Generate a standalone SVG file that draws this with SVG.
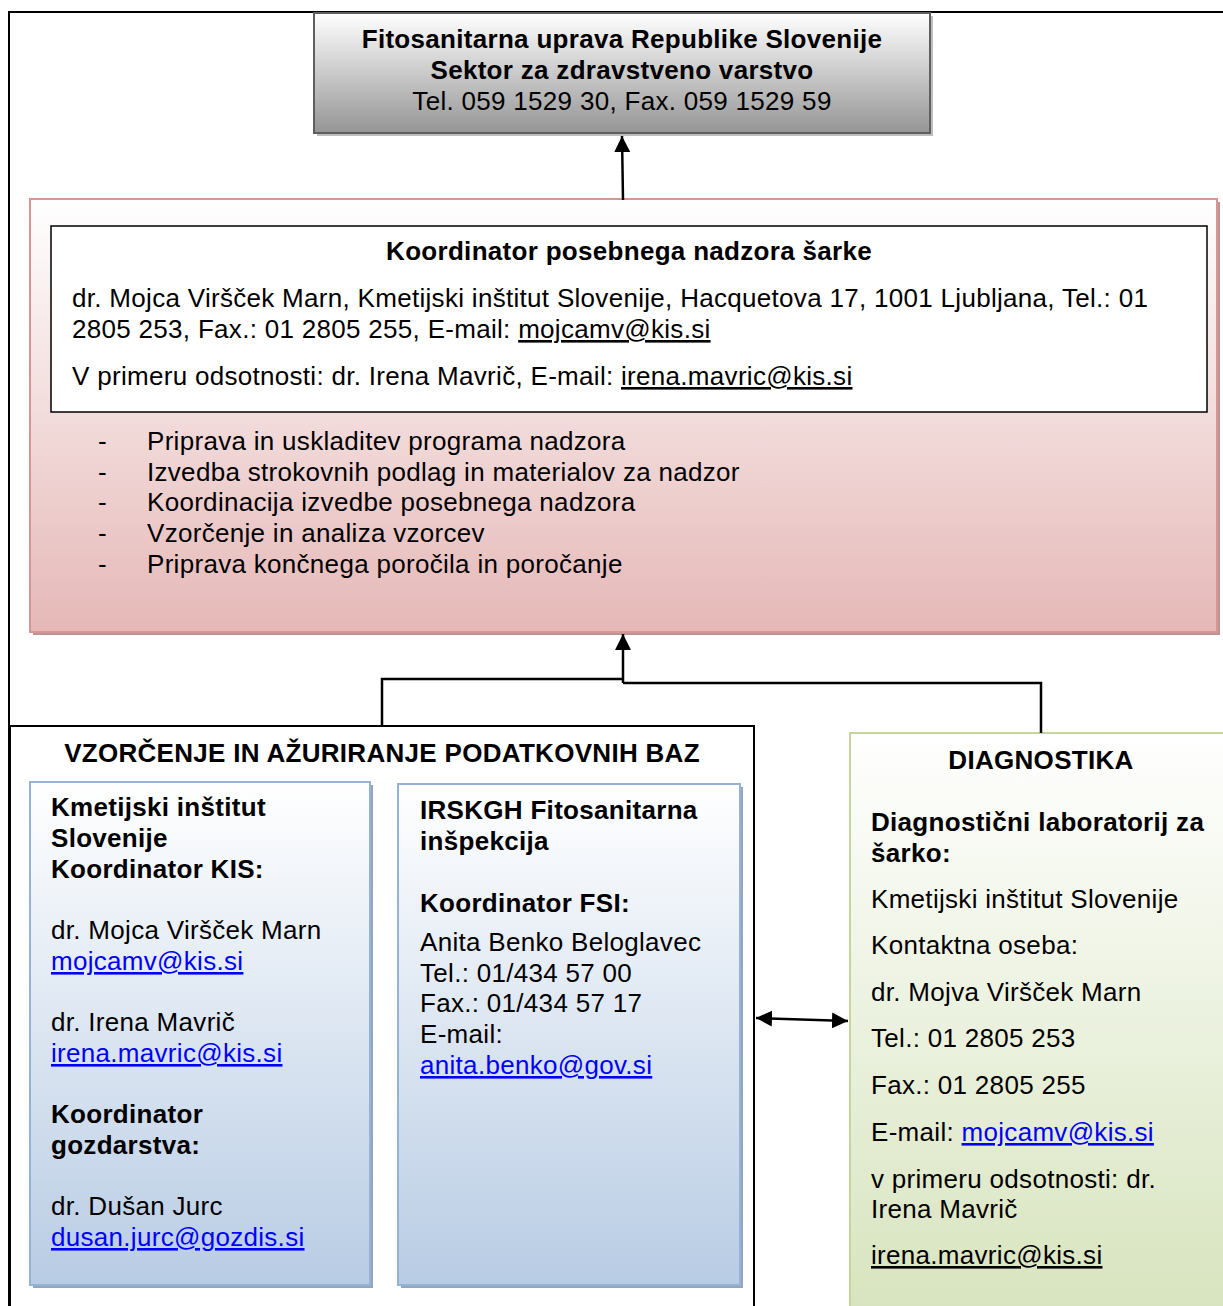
<svg xmlns="http://www.w3.org/2000/svg" width="1223" height="1306" viewBox="0 0 1223 1306">
<defs>
<linearGradient id="gGray" x1="0" y1="0" x2="0" y2="1"><stop offset="0" stop-color="#ffffff"/><stop offset="1" stop-color="#959595"/></linearGradient>
<linearGradient id="gPink" x1="0" y1="0" x2="0" y2="1"><stop offset="0" stop-color="#ffffff"/><stop offset="1" stop-color="#e5b8b7"/></linearGradient>
<linearGradient id="gBlue" x1="0" y1="0" x2="0" y2="1"><stop offset="0" stop-color="#ffffff"/><stop offset="1" stop-color="#b8cce4"/></linearGradient>
<linearGradient id="gGreen" x1="0" y1="0" x2="0" y2="1"><stop offset="0" stop-color="#ffffff"/><stop offset="1" stop-color="#d6e3bc"/></linearGradient>
<marker id="ah" viewBox="0 0 10 10" refX="10" refY="5" markerWidth="16" markerHeight="16" markerUnits="userSpaceOnUse" orient="auto-start-reverse"><path d="M0,0 L10,5 L0,10 z" fill="#000"/></marker>
</defs>
<style>
text{font-family:"Liberation Sans",Arial,sans-serif;font-size:26px;letter-spacing:0.3px;fill:#000}
.b{font-weight:bold}
.c{text-anchor:middle}
.u{text-decoration:underline}
.lnk{fill:#0000ff;text-decoration:underline}
.conn{fill:none;stroke:#000;stroke-width:2.5}
</style>
<rect x="9" y="12" width="1230" height="1310" fill="none" stroke="#000" stroke-width="2"/>

<g id="top">
<rect x="317" y="16" width="616" height="120" fill="#bdbdbd"/>
<rect x="314" y="13" width="616" height="120" fill="url(#gGray)" stroke="#5f5f5f" stroke-width="2"/>
<text class="b c" x="622" y="48">Fitosanitarna uprava Republike Slovenije</text>
<text class="b c" x="622" y="79">Sektor za zdravstveno varstvo</text>
<text class="c" x="622" y="110">Tel. 059 1529 30, Fax. 059 1529 59</text>
</g>

<g id="koordinator">
<rect x="33" y="202" width="1187" height="433" fill="#c09494"/>
<rect x="30" y="199" width="1187" height="433" fill="url(#gPink)" stroke="#d99594" stroke-width="2"/>
<rect x="51" y="226" width="1156" height="186" fill="#fff" stroke="#000" stroke-width="1.5"/>
<text class="b c" x="629" y="260">Koordinator posebnega nadzora šarke</text>
<text x="72" y="307">dr. Mojca Viršček Marn, Kmetijski inštitut Slovenije, Hacquetova 17, 1001 Ljubljana, Tel.: 01</text>
<text x="72" y="338">2805 253, Fax.: 01 2805 255, E-mail: <tspan class="u">mojcamv@kis.si</tspan></text>
<text x="72" y="385">V primeru odsotnosti: dr. Irena Mavrič, E-mail: <tspan class="u">irena.mavric@kis.si</tspan></text>
<text x="98" y="450">-</text><text x="147" y="450">Priprava in uskladitev programa nadzora</text>
<text x="98" y="481">-</text><text x="147" y="481">Izvedba strokovnih podlag in materialov za nadzor</text>
<text x="98" y="511">-</text><text x="147" y="511">Koordinacija izvedbe posebnega nadzora</text>
<text x="98" y="542">-</text><text x="147" y="542">Vzorčenje in analiza vzorcev</text>
<text x="98" y="573">-</text><text x="147" y="573">Priprava končnega poročila in poročanje</text>
</g>

<g id="vzorcenje">
<rect x="10" y="726" width="744" height="600" fill="#fff" stroke="#000" stroke-width="2"/>
<text class="b c" x="382" y="762">VZORČENJE IN AŽURIRANJE PODATKOVNIH BAZ</text>
</g>

<g id="kis">
<rect x="33" y="785" width="340" height="503" fill="#95a5bd"/>
<rect x="30" y="782" width="340" height="503" fill="url(#gBlue)" stroke="#95b3d7" stroke-width="2"/>
<text class="b" x="51" y="816">Kmetijski inštitut</text>
<text class="b" x="51" y="847">Slovenije</text>
<text class="b" x="51" y="878">Koordinator KIS:</text>
<text x="51" y="939">dr. Mojca Viršček Marn</text>
<text class="lnk" x="51" y="970">mojcamv@kis.si</text>
<text x="51" y="1031">dr. Irena Mavrič</text>
<text class="lnk" x="51" y="1062">irena.mavric@kis.si</text>
<text class="b" x="51" y="1123">Koordinator</text>
<text class="b" x="51" y="1154">gozdarstva:</text>
<text x="51" y="1215">dr. Dušan Jurc</text>
<text class="lnk" x="51" y="1246">dusan.jurc@gozdis.si</text>
</g>

<g id="fsi">
<rect x="401" y="787" width="342" height="501" fill="#95a5bd"/>
<rect x="398" y="784" width="342" height="501" fill="url(#gBlue)" stroke="#95b3d7" stroke-width="2"/>
<text class="b" x="420" y="819">IRSKGH Fitosanitarna</text>
<text class="b" x="420" y="850">inšpekcija</text>
<text class="b" x="420" y="912">Koordinator FSI:</text>
<text x="420" y="951">Anita Benko Beloglavec</text>
<text x="420" y="982">Tel.: 01/434 57 00</text>
<text x="420" y="1012">Fax.: 01/434 57 17</text>
<text x="420" y="1043">E-mail:</text>
<text class="lnk" x="420" y="1074">anita.benko@gov.si</text>
</g>

<g id="diagnostika">
<rect x="850" y="733" width="400" height="600" fill="url(#gGreen)" stroke="#c3d69b" stroke-width="2"/>
<text class="b c" x="1041" y="769">DIAGNOSTIKA</text>
<text class="b" x="871" y="831">Diagnostični laboratorij za</text>
<text class="b" x="871" y="862">šarko:</text>
<text x="871" y="908">Kmetijski inštitut Slovenije</text>
<text x="871" y="954">Kontaktna oseba:</text>
<text x="871" y="1001">dr. Mojva Viršček Marn</text>
<text x="871" y="1047">Tel.: 01 2805 253</text>
<text x="871" y="1094">Fax.: 01 2805 255</text>
<text x="871" y="1141">E-mail: <tspan class="lnk">mojcamv@kis.si</tspan></text>
<text x="871" y="1188">v primeru odsotnosti: dr.</text>
<text x="871" y="1218">Irena Mavrič</text>
<text class="u" x="871" y="1264">irena.mavric@kis.si</text>
</g>

<g id="connectors">
<path class="conn" d="M623,200 L622,136" marker-end="url(#ah)"/>
<path class="conn" d="M382,726 L382,679 L623,679"/>
<path class="conn" d="M1041,733 L1041,683 L623,683"/>
<path class="conn" d="M623,683 L623,634" marker-end="url(#ah)"/>
<path class="conn" d="M756,1018 L848,1021" marker-start="url(#ah)" marker-end="url(#ah)"/>
</g>
</svg>
